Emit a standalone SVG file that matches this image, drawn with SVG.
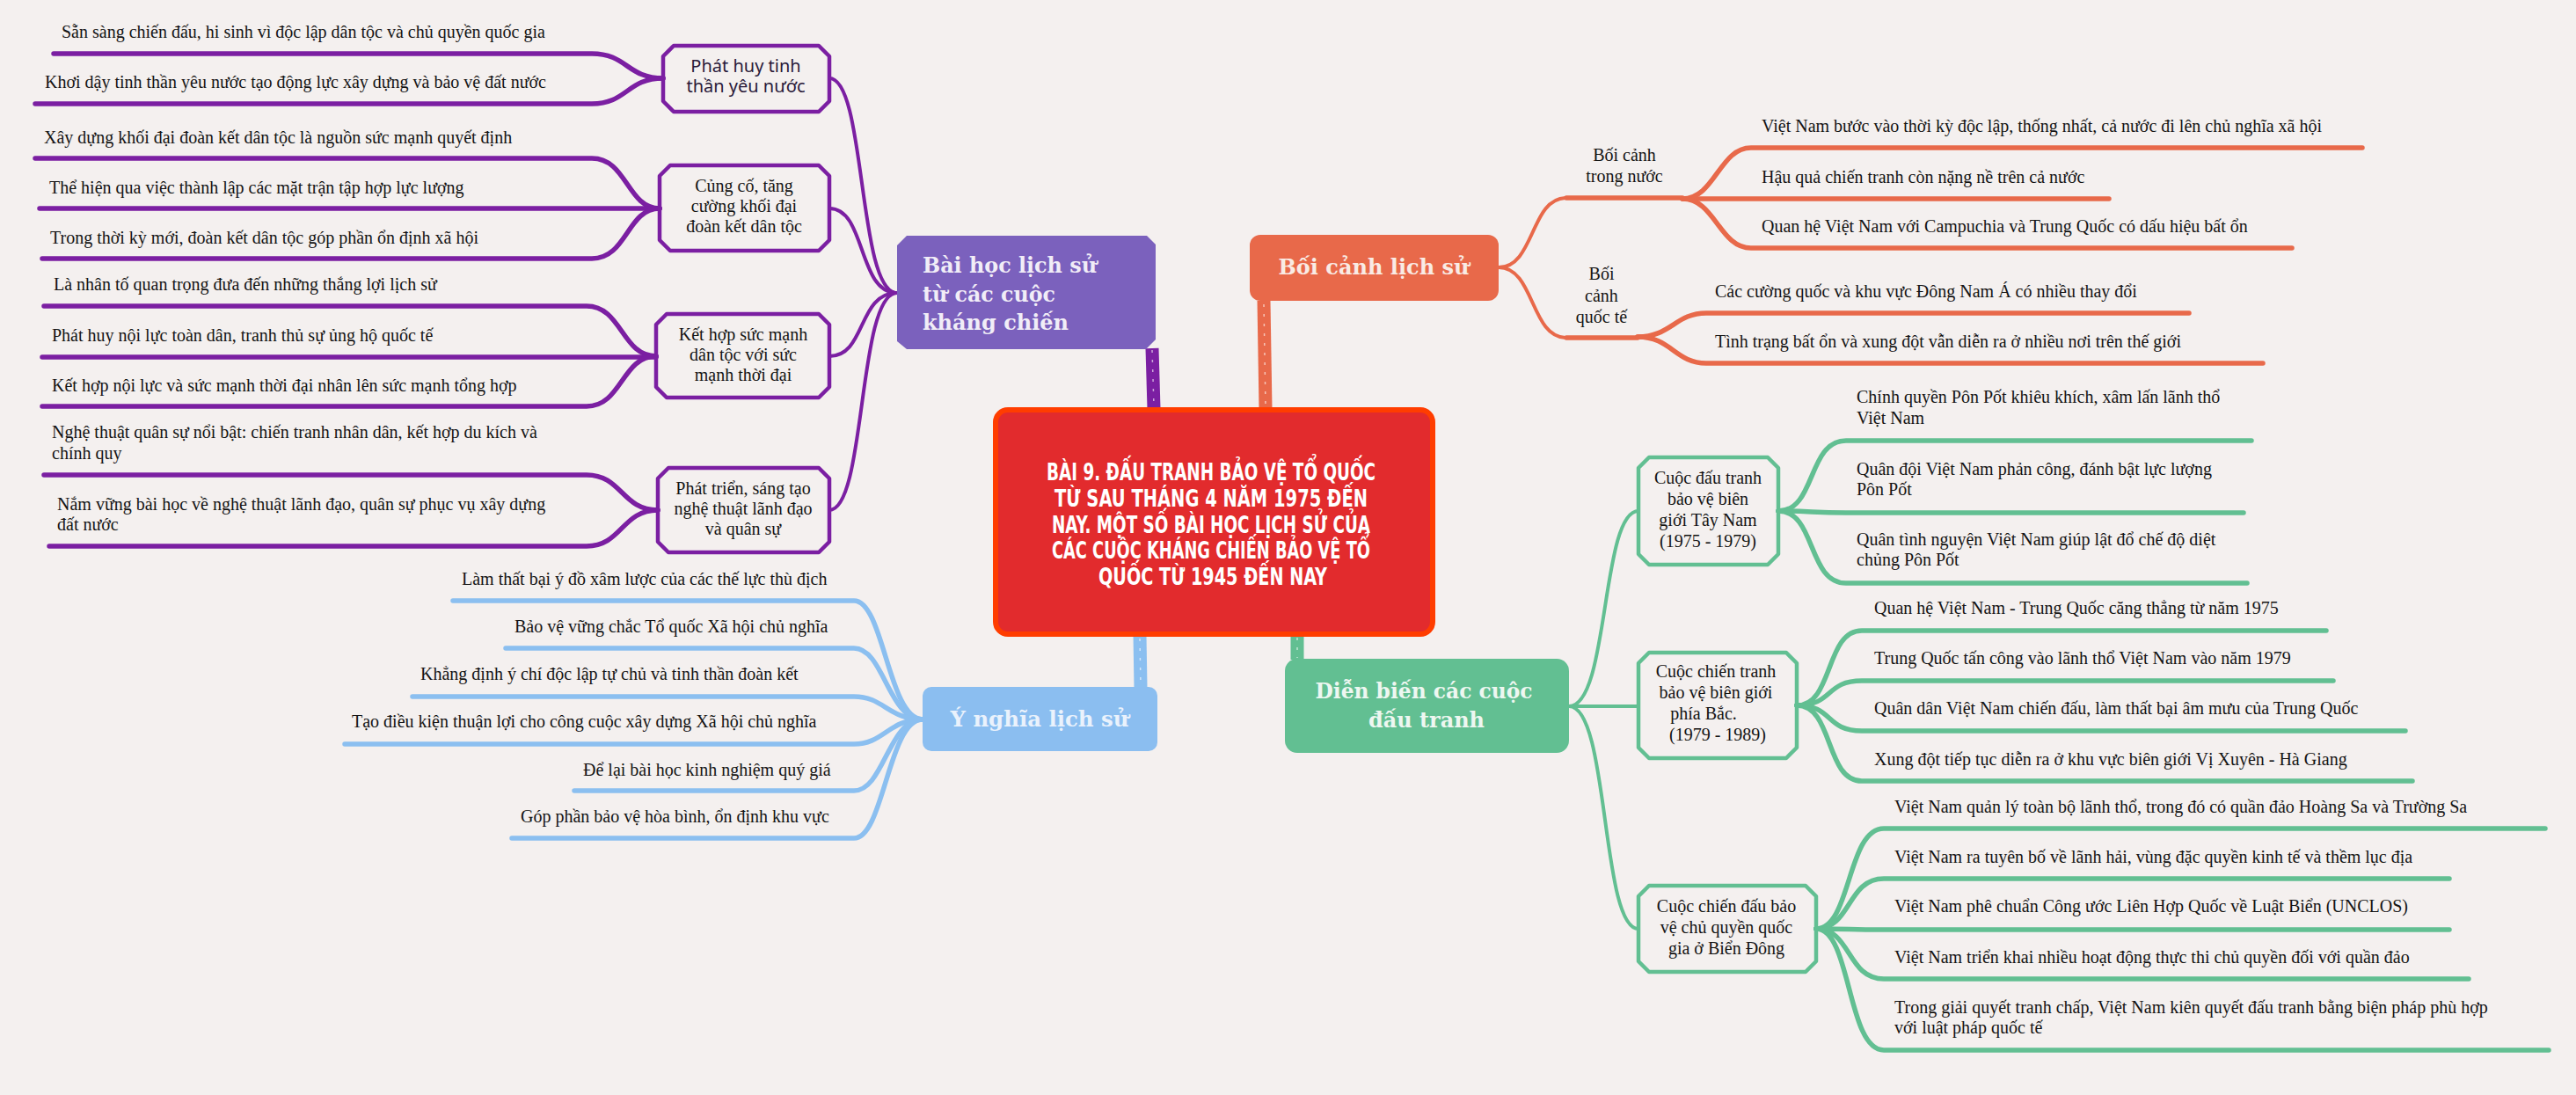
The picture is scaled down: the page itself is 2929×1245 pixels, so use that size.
<svg xmlns="http://www.w3.org/2000/svg" width="2929" height="1245" viewBox="0 0 2929 1245">
<style>
.lf{font-family:"Liberation Serif","Times New Roman",serif;font-size:20px;fill:#141414}
.sb{font-family:"Liberation Serif","Times New Roman",serif;font-size:20px;fill:#141414;text-anchor:middle}
.hw{font-family:"Noto Sans","DejaVu Sans",sans-serif;font-size:20px;fill:#2a1a3a;text-anchor:middle}
.mn{font-family:"DejaVu Serif","Liberation Serif",serif;font-weight:bold;font-size:24px}
.tt{font-family:"DejaVu Sans Condensed","DejaVu Sans",sans-serif;font-weight:bold;font-size:27px;fill:#ffffff;text-anchor:middle}
.c{fill:none;stroke-linecap:round;stroke-linejoin:round}
.pu{stroke:#7b1fa2}
.or{stroke:#e8694a}
.gr{stroke:#62bf92}
.bl{stroke:#8bbff0}
.ln{stroke-width:5.5}
.cv{stroke-width:4}
.sbx{fill:none;stroke-width:4.5;stroke-linejoin:round}
.bar{stroke-width:15;stroke-linecap:butt}
.hatch{stroke:#ffffff;stroke-width:1.5;stroke-dasharray:3 8;opacity:0.6;fill:none}
</style>
<rect x="0" y="0" width="2929" height="1245" fill="#f4f0ef"/>

<g id="connectors">
  <!-- center to main nodes -->
  <line class="pu bar" x1="1310" y1="396" x2="1312" y2="465"/>
  <line class="hatch" x1="1310" y1="398" x2="1312" y2="462"/>
  <line class="or bar" x1="1437" y1="342" x2="1439" y2="465"/>
  <line class="hatch" x1="1437" y1="346" x2="1439" y2="462"/>
  <line class="bl bar" x1="1296" y1="722" x2="1297" y2="782"/>
  <line class="hatch" x1="1296" y1="726" x2="1297" y2="780"/>
  <line class="gr bar" x1="1475" y1="722" x2="1475" y2="750"/>
  <line class="hatch" x1="1475" y1="725" x2="1475" y2="748"/>

  <!-- purple: main node to sub boxes -->
  <path class="c pu cv" d="M943 89 C985 89 975 333 1020 333"/>
  <path class="c pu cv" d="M943 237 C985 237 975 333 1020 333"/>
  <path class="c pu cv" d="M943 405 C985 405 975 333 1020 333"/>
  <path class="c pu cv" d="M943 580 C985 580 975 333 1020 333"/>
  <!-- purple leaves -->
  <path class="c pu ln" d="M61 61 H673 C713 61 713 89 754 89"/>
  <path class="c pu ln" d="M40 118 H673 C713 118 713 89 754 89"/>
  <path class="c pu ln" d="M40 180 H673 C713 180 713 237 750 237"/>
  <path class="c pu ln" d="M45 237 H750"/>
  <path class="c pu ln" d="M48 294 H673 C713 294 713 237 750 237"/>
  <path class="c pu ln" d="M50 348 H667 C707 348 707 405 746 405"/>
  <path class="c pu ln" d="M48 406 H746"/>
  <path class="c pu ln" d="M48 462 H667 C707 462 707 405 746 405"/>
  <path class="c pu ln" d="M50 540 H667 C707 540 707 580 748 580"/>
  <path class="c pu ln" d="M56 621 H667 C707 621 707 580 748 580"/>

  <!-- blue leaves -->
  <path class="c bl ln" d="M515 683 H971 C1005 683 1010 818 1049 818"/>
  <path class="c bl ln" d="M575 737 H971 C1005 737 1010 818 1049 818"/>
  <path class="c bl ln" d="M469 792 H971 C1005 792 1010 818 1049 818"/>
  <path class="c bl ln" d="M392 846 H971 C1005 846 1010 818 1049 818"/>
  <path class="c bl ln" d="M653 899 H971 C1005 899 1010 818 1049 818"/>
  <path class="c bl ln" d="M582 953 H971 C1005 953 1010 818 1049 818"/>

  <!-- orange -->
  <path class="c or cv" d="M1704 304 C1745 304 1740 225 1781 225"/>
  <path class="c or ln" d="M1781 225 H1913"/>
  <path class="c or cv" d="M1704 304 C1745 304 1740 384 1781 384"/>
  <path class="c or ln" d="M1781 384 H1862"/>
  <path class="c or ln" d="M1913 226 C1950 226 1955 168 1991 168 H2686"/>
  <path class="c or ln" d="M1913 226 H2398"/>
  <path class="c or ln" d="M1913 226 C1950 226 1955 282 1991 282 H2606"/>
  <path class="c or ln" d="M1862 383 C1900 383 1905 356 1940 356 H2489"/>
  <path class="c or ln" d="M1862 383 C1900 383 1905 413 1940 413 H2573"/>

  <!-- green: main node to sub boxes -->
  <path class="c gr cv" d="M1784 803 C1830 803 1820 581 1863 581"/>
  <path class="c gr cv" d="M1784 803 H1863"/>
  <path class="c gr cv" d="M1784 803 C1830 803 1820 1056 1863 1056"/>
  <!-- green leaves -->
  <path class="c gr ln" d="M2022 581 C2065 581 2055 501 2099 501 H2560"/>
  <path class="c gr ln" d="M2022 581 C2060 581 2060 583 2099 583 H2551"/>
  <path class="c gr ln" d="M2022 581 C2065 581 2055 663 2099 663 H2555"/>
  <path class="c gr ln" d="M2043 802 C2085 802 2075 717 2117 717 H2645"/>
  <path class="c gr ln" d="M2043 802 C2085 802 2075 774 2117 774 H2653"/>
  <path class="c gr ln" d="M2043 802 C2085 802 2075 831 2117 831 H2735"/>
  <path class="c gr ln" d="M2043 802 C2085 802 2075 888 2117 888 H2743"/>
  <path class="c gr ln" d="M2065 1056 C2105 1056 2100 942 2142 942 H2894"/>
  <path class="c gr ln" d="M2065 1056 C2105 1056 2100 999 2142 999 H2785"/>
  <path class="c gr ln" d="M2065 1056 C2105 1056 2100 1057 2142 1057 H2785"/>
  <path class="c gr ln" d="M2065 1056 C2105 1056 2100 1113 2142 1113 H2807"/>
  <path class="c gr ln" d="M2065 1056 C2105 1056 2100 1194 2142 1194 H2898"/>
</g>

<!-- central node -->
<g id="center">
  <rect x="1132" y="466" width="497" height="255" rx="14" fill="#e22b2d" stroke="#ff3d00" stroke-width="6"/>
  <text class="tt" x="1377" y="546" textLength="374" lengthAdjust="spacingAndGlyphs">BÀI 9. ĐẤU TRANH BẢO VỆ TỔ QUỐC</text>
  <text class="tt" x="1377" y="576" textLength="356" lengthAdjust="spacingAndGlyphs">TỪ SAU THÁNG 4 NĂM 1975 ĐẾN</text>
  <text class="tt" x="1377" y="606" textLength="362" lengthAdjust="spacingAndGlyphs">NAY. MỘT SỐ BÀI HỌC LỊCH SỬ CỦA</text>
  <text class="tt" x="1377" y="635" textLength="362" lengthAdjust="spacingAndGlyphs">CÁC CUỘC KHÁNG CHIẾN BẢO VỆ TỔ</text>
  <text class="tt" x="1379" y="665" textLength="260" lengthAdjust="spacingAndGlyphs">QUỐC TỪ 1945 ĐẾN NAY</text>
</g>

<!-- main nodes -->
<g id="node-baihoc">
  <path d="M1031 268 H1304 L1314 278 V386 L1303 397 H1031 L1020 388 V279 Z" fill="#7b61bd"/>
  <g class="mn" fill="#f1edf7">
    <text x="1049" y="310" textLength="198" lengthAdjust="spacingAndGlyphs">Bài học lịch sử</text>
    <text x="1049" y="343" textLength="151" lengthAdjust="spacingAndGlyphs">từ các cuộc</text>
    <text x="1049" y="375" textLength="166" lengthAdjust="spacingAndGlyphs">kháng chiến</text>
  </g>
</g>
<g id="node-boicanh">
  <rect x="1421" y="267" width="283" height="75" rx="12" fill="#e8694a"/>
  <text class="mn" x="1562" y="312" fill="#f9ebe5" text-anchor="middle" textLength="217" lengthAdjust="spacingAndGlyphs">Bối cảnh lịch sử</text>
</g>
<g id="node-dienbien">
  <rect x="1461" y="749" width="323" height="107" rx="14" fill="#62bf92"/>
  <g class="mn" fill="#eef7f1" text-anchor="middle">
    <text x="1619" y="794" textLength="247" lengthAdjust="spacingAndGlyphs">Diễn biến các cuộc</text>
    <text x="1622" y="827" textLength="132" lengthAdjust="spacingAndGlyphs">đấu tranh</text>
  </g>
</g>
<g id="node-ynghia">
  <rect x="1049" y="781" width="267" height="73" rx="10" fill="#8bbef0"/>
  <text class="mn" x="1182" y="826" fill="#eaf2fc" text-anchor="middle" textLength="203" lengthAdjust="spacingAndGlyphs">Ý nghĩa lịch sử</text>
</g>

<!-- purple sub boxes -->
<g id="sub-phathuy">
  <path class="sbx pu" d="M766 52 H931 L943 64 V115 L931 127 H766 L754 115 V64 Z"/>
  <text class="hw" x="848" y="82">Phát huy tinh</text>
  <text class="hw" x="848" y="105">thần yêu nước</text>
</g>
<g id="sub-cungco">
  <path class="sbx pu" d="M762 188 H931 L943 200 V273 L931 285 H762 L750 273 V200 Z"/>
  <text class="sb" x="846" y="218">Củng cố, tăng</text>
  <text class="sb" x="846" y="241">cường khối đại</text>
  <text class="sb" x="846" y="264">đoàn kết dân tộc</text>
</g>
<g id="sub-kethop">
  <path class="sbx pu" d="M758 357 H931 L943 369 V440 L931 452 H758 L746 440 V369 Z"/>
  <text class="sb" x="845" y="387">Kết hợp sức mạnh</text>
  <text class="sb" x="845" y="410">dân tộc với sức</text>
  <text class="sb" x="845" y="433">mạnh thời đại</text>
</g>
<g id="sub-phattrien">
  <path class="sbx pu" d="M760 532 H931 L943 544 V616 L931 628 H760 L748 616 V544 Z"/>
  <text class="sb" x="845" y="562">Phát triển, sáng tạo</text>
  <text class="sb" x="845" y="585">nghệ thuật lãnh đạo</text>
  <text class="sb" x="845" y="608">và quân sự</text>
</g>

<!-- purple leaves -->
<g id="leaves-baihoc">
  <text class="lf" x="70" y="43">Sẵn sàng chiến đấu, hi sinh vì độc lập dân tộc và chủ quyền quốc gia</text>
  <text class="lf" x="51" y="100">Khơi dậy tinh thần yêu nước tạo động lực xây dựng và bảo vệ đất nước</text>
  <text class="lf" x="50" y="163">Xây dựng khối đại đoàn kết dân tộc là nguồn sức mạnh quyết định</text>
  <text class="lf" x="56" y="220">Thể hiện qua việc thành lập các mặt trận tập hợp lực lượng</text>
  <text class="lf" x="57" y="277">Trong thời kỳ mới, đoàn kết dân tộc góp phần ổn định xã hội</text>
  <text class="lf" x="61" y="330">Là nhân tố quan trọng đưa đến những thắng lợi lịch sử</text>
  <text class="lf" x="59" y="388">Phát huy nội lực toàn dân, tranh thủ sự ủng hộ quốc tế</text>
  <text class="lf" x="59" y="445">Kết hợp nội lực và sức mạnh thời đại nhân lên sức mạnh tổng hợp</text>
  <text class="lf" x="59" y="498">Nghệ thuật quân sự nổi bật: chiến tranh nhân dân, kết hợp du kích và</text>
  <text class="lf" x="59" y="522">chính quy</text>
  <text class="lf" x="65" y="580">Nắm vững bài học về nghệ thuật lãnh đạo, quân sự phục vụ xây dựng</text>
  <text class="lf" x="65" y="603">đất nước</text>
</g>

<!-- blue leaves -->
<g id="leaves-ynghia">
  <text class="lf" x="525" y="665">Làm thất bại ý đồ xâm lược của các thế lực thù địch</text>
  <text class="lf" x="585" y="719">Bảo vệ vững chắc Tổ quốc Xã hội chủ nghĩa</text>
  <text class="lf" x="478" y="773">Khẳng định ý chí độc lập tự chủ và tinh thần đoàn kết</text>
  <text class="lf" x="400" y="827">Tạo điều kiện thuận lợi cho công cuộc xây dựng Xã hội chủ nghĩa</text>
  <text class="lf" x="663" y="882">Để lại bài học kinh nghiệm quý giá</text>
  <text class="lf" x="592" y="935">Góp phần bảo vệ hòa bình, ổn định khu vực</text>
</g>

<!-- orange sub labels -->
<g id="sub-trongnuoc">
  <text class="sb" x="1847" y="183">Bối cảnh</text>
  <text class="sb" x="1847" y="207">trong nước</text>
</g>
<g id="sub-quocte">
  <text class="sb" x="1821" y="318">Bối</text>
  <text class="sb" x="1821" y="343">cảnh</text>
  <text class="sb" x="1821" y="367">quốc tế</text>
</g>
<g id="leaves-boicanh">
  <text class="lf" x="2003" y="150">Việt Nam bước vào thời kỳ độc lập, thống nhất, cả nước đi lên chủ nghĩa xã hội</text>
  <text class="lf" x="2003" y="208">Hậu quả chiến tranh còn nặng nề trên cả nước</text>
  <text class="lf" x="2003" y="264">Quan hệ Việt Nam với Campuchia và Trung Quốc có dấu hiệu bất ổn</text>
  <text class="lf" x="1950" y="338">Các cường quốc và khu vực Đông Nam Á có nhiều thay đổi</text>
  <text class="lf" x="1950" y="395">Tình trạng bất ổn và xung đột vẫn diễn ra ở nhiều nơi trên thế giới</text>
</g>

<!-- green sub boxes -->
<g id="sub-taynam">
  <path class="sbx gr" d="M1875 520 H2010 L2022 532 V630 L2010 642 H1875 L1863 630 V532 Z"/>
  <text class="sb" x="1942" y="550">Cuộc đấu tranh</text>
  <text class="sb" x="1942" y="574">bảo vệ biên</text>
  <text class="sb" x="1942" y="598">giới Tây Nam</text>
  <text class="sb" x="1942" y="622">(1975 - 1979)</text>
</g>
<g id="sub-phiabac">
  <path class="sbx gr" d="M1875 742 H2031 L2043 754 V850 L2031 862 H1875 L1863 850 V754 Z"/>
  <text class="sb" x="1951" y="770">Cuộc chiến tranh</text>
  <text class="sb" x="1951" y="794">bảo vệ biên giới</text>
  <text class="sb" x="1937" y="818">phía Bắc.</text>
  <text class="sb" x="1953" y="842">(1979 - 1989)</text>
</g>
<g id="sub-biendong">
  <path class="sbx gr" d="M1875 1007 H2053 L2065 1019 V1093 L2053 1105 H1875 L1863 1093 V1019 Z"/>
  <text class="sb" x="1963" y="1037">Cuộc chiến đấu bảo</text>
  <text class="sb" x="1963" y="1061">vệ chủ quyền quốc</text>
  <text class="sb" x="1963" y="1085">gia ở Biển Đông</text>
</g>
<g id="leaves-dienbien">
  <text class="lf" x="2111" y="458">Chính quyền Pôn Pốt khiêu khích, xâm lấn lãnh thổ</text>
  <text class="lf" x="2111" y="482">Việt Nam</text>
  <text class="lf" x="2111" y="540">Quân đội Việt Nam phản công, đánh bật lực lượng</text>
  <text class="lf" x="2111" y="563">Pôn Pốt</text>
  <text class="lf" x="2111" y="620">Quân tình nguyện Việt Nam giúp lật đổ chế độ diệt</text>
  <text class="lf" x="2111" y="643">chủng Pôn Pốt</text>
  <text class="lf" x="2131" y="698">Quan hệ Việt Nam - Trung Quốc căng thẳng từ năm 1975</text>
  <text class="lf" x="2131" y="755">Trung Quốc tấn công vào lãnh thổ Việt Nam vào năm 1979</text>
  <text class="lf" x="2131" y="812">Quân dân Việt Nam chiến đấu, làm thất bại âm mưu của Trung Quốc</text>
  <text class="lf" x="2131" y="870">Xung đột tiếp tục diễn ra ở khu vực biên giới Vị Xuyên - Hà Giang</text>
  <text class="lf" x="2154" y="924">Việt Nam quản lý toàn bộ lãnh thổ, trong đó có quần đảo Hoàng Sa và Trường Sa</text>
  <text class="lf" x="2154" y="981">Việt Nam ra tuyên bố về lãnh hải, vùng đặc quyền kinh tế và thềm lục địa</text>
  <text class="lf" x="2154" y="1037">Việt Nam phê chuẩn Công ước Liên Hợp Quốc về Luật Biển (UNCLOS)</text>
  <text class="lf" x="2154" y="1095">Việt Nam triển khai nhiều hoạt động thực thi chủ quyền đối với quần đảo</text>
  <text class="lf" x="2154" y="1152">Trong giải quyết tranh chấp, Việt Nam kiên quyết đấu tranh bằng biện pháp phù hợp</text>
  <text class="lf" x="2154" y="1175">với luật pháp quốc tế</text>
</g>
</svg>
